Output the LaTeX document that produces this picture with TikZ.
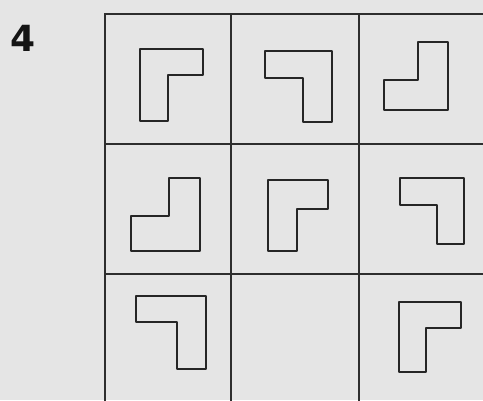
\documentclass[tikz,border=0pt]{standalone}
\usepackage{fontspec}
\newfontfamily\numfont{DejaVu Sans}
\begin{document}
\begin{tikzpicture}[x=1pt,y=-1pt,
  gridline/.style={line width=2.2pt, draw=black!82, line cap=rect},
  piece/.style={line width=2.6pt, draw=black!85, line join=round}]
\fill[black!10] (0,0) rectangle (483,400);
\useasboundingbox (0,0) rectangle (483,400);
\node[inner sep=0pt, font=\numfont\bfseries\fontsize{36}{36}\selectfont, text=black!92] (num) at (23.5,38) {4};
% grid
\draw[gridline] (105,14) -- (483,14);
\draw[gridline] (105,144) -- (483,144);
\draw[gridline] (105,274) -- (483,274);
\draw[gridline] (105,14) -- (105,400);
\draw[gridline] (231,14) -- (231,400);
\draw[gridline] (359,14) -- (359,400);
% row 1
\draw[piece] (140,49) -- (203,49) -- (203,75) -- (168,75) -- (168,121) -- (140,121) -- cycle;
\draw[piece] (265,51) -- (332,51) -- (332,122) -- (303,122) -- (303,78) -- (265,78) -- cycle;
\draw[piece] (418,42) -- (448,42) -- (448,110) -- (384,110) -- (384,80) -- (418,80) -- cycle;
% row 2
\draw[piece] (169,178) -- (200,178) -- (200,251) -- (131,251) -- (131,216) -- (169,216) -- cycle;
\draw[piece] (268,180) -- (328,180) -- (328,209) -- (297,209) -- (297,251) -- (268,251) -- cycle;
\draw[piece] (400,178) -- (464,178) -- (464,244) -- (437,244) -- (437,205) -- (400,205) -- cycle;
% row 3
\draw[piece] (136,296) -- (206,296) -- (206,369) -- (177,369) -- (177,322) -- (136,322) -- cycle;
\draw[piece] (399,302) -- (461,302) -- (461,328) -- (426,328) -- (426,372) -- (399,372) -- cycle;
\end{tikzpicture}
\end{document}
